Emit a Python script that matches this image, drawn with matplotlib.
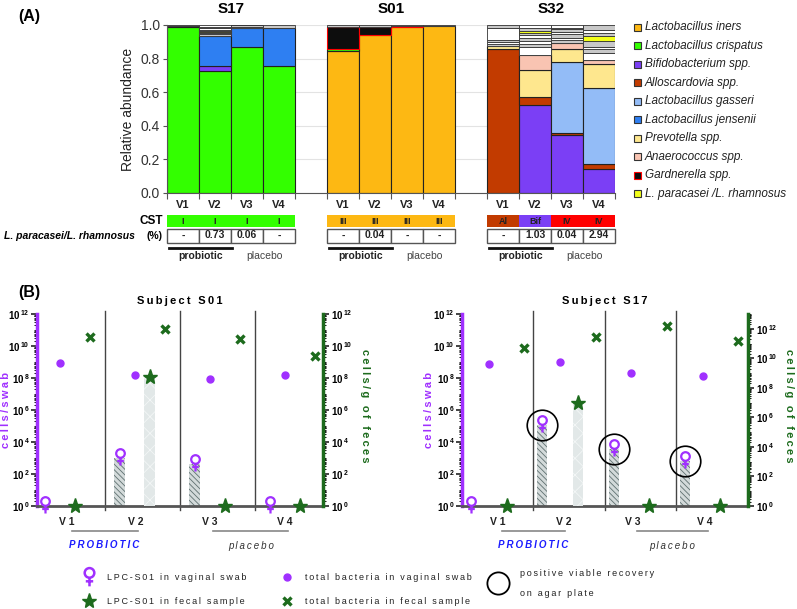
import numpy as np
import matplotlib.pyplot as plt
from matplotlib import ticker, transforms
from matplotlib.path import Path
from matplotlib.patches import Rectangle

plt.rcParams['font.family'] = ['Liberation Sans', 'DejaVu Sans']
plt.rcParams['mathtext.fontset'] = 'custom'
plt.rcParams['mathtext.rm'] = 'Liberation Sans'
plt.rcParams['mathtext.bf'] = 'Liberation Sans:bold'
plt.rcParams['hatch.linewidth'] = 0.6

# ---------------- (A) relative abundance: S17 V1-V4, S01 V1-V4, S32 V1-V4
subjects = ['S17', 'S01', 'S32']
visits = ['V1', 'V2', 'V3', 'V4']
taxa = ['Lactobacillus iners', 'Lactobacillus crispatus', 'Bifidobacterium spp.',
        'Alloscardovia spp.', 'Lactobacillus gasseri', 'Lactobacillus jensenii',
        'Prevotella spp.', 'Anaerococcus spp.', 'Gardnerella spp.',
        'L. paracasei /L. rhamnosus']
iners        = [0, 0, 0, 0,  0.845, 0.94, 0.99, 0.997,  0, 0, 0, 0]
crispatus    = [0.99, 0.728, 0.871, 0.757,  0.01, 0, 0, 0,  0, 0, 0, 0]
bifido       = [0, 0.029, 0, 0,  0, 0, 0, 0,  0, 0.523, 0.344, 0.145]
alloscard    = [0, 0, 0, 0,  0, 0, 0, 0,  0.855, 0.05, 0.014, 0.025]
gasseri      = [0, 0, 0, 0,  0, 0, 0, 0,  0, 0, 0.422, 0.455]
jensenii     = [0.006, 0.179, 0.109, 0.223,  0, 0, 0, 0,  0, 0, 0, 0]
prevotella   = [0, 0, 0, 0,  0, 0, 0, 0,  0.02, 0.159, 0.08, 0.145]
anaerococcus = [0, 0, 0, 0,  0, 0, 0, 0,  0, 0.088, 0.03, 0.02]
gardnerella  = [0, 0, 0, 0,  0.135, 0.05, 0.005, 0,  0, 0, 0, 0]
paracasei    = [0, 0.0073, 0.0006, 0,  0, 0.0004, 0, 0,  0, 0.0103, 0.0004, 0.0294]
# other minor taxa, below and above the L. paracasei segment
other_below = [[], [0.008, 0.006, 0.006], [0.005, 0.004], [],
               [], [], [], [],
               [], [0.002, 0.048, 0.015, 0.02, 0.015, 0.02, 0.015],
               [0.02, 0.015, 0.02, 0.015, 0.015], [0.004, 0.042, 0.02, 0.015, 0.034]]
other_above = [[0.004], [0.006, 0.012, 0.005, 0.0137], [0.008, 0.0024], [0.02],
               [0.01], [0.0096], [0.005], [0.003],
               [0.01, 0.012, 0.012, 0.075, 0.016], [0.015, 0.02], [0.0096, 0.015],
               [0.02, 0.016, 0.03]]
cst = ['I', 'I', 'I', 'I', 'III', 'III', 'III', 'III', 'Al', 'Bif', 'IV', 'IV']
lpr_pct = ['-', '0.73', '0.06', '-', '-', '0.04', '-', '-', '-', '1.03', '0.04', '2.94']

# ---------------- (B) counts per visit
b_visits = ['V 1', 'V 2', 'V 3', 'V 4']
s01_lpc_vag = [1, 1e3, 4.2e2, 1]
s01_tot_vag = [9e8, 1.5e8, 8.7e7, 1.5e8]
s01_lpc_fec = [1, 1.2e8, 1, 1]
s01_tot_fec = [3.8e10, 1.15e11, 2.9e10, 2.5e9]
s01_recovered = [False, False, False, False]
s17_lpc_vag = [1, 1.15e5, 3.6e3, 6.5e2]
s17_tot_vag = [7.5e8, 1.05e9, 2.2e8, 1.4e8]
s17_lpc_fec = [1, 9e6, 1, 1]
s17_tot_fec = [5e10, 2.9e11, 1.6e12, 1.5e11]
s17_recovered = [False, True, True, True]

# colours
taxa_colors = ['#fdb813', '#33ff00', '#7b3ff5', '#c23b00', '#93bcf7', '#2e7ff2',
               '#fee78e', '#f9c4b2', '#0d0d0d', '#f2ff1a']
cst_colors = {'I': '#33ff00', 'III': '#fdb813', 'Al': '#c23b00', 'Bif': '#7b3ff5', 'IV': '#ff0000'}
stripe_colors = ['#c8c8c8', '#ffffff']
purple = '#a030ff'
green = '#1d6b1d'

W, H = 797, 609


def px_rect(l, t, r, b):
    return [l / W, 1 - b / H, (r - l) / W, (b - t) / H]


def spaced(s):
    return '\u2009'.join(s)


# female sign marker
_circ = Path.circle(center=(0, 5), radius=4.3)
female = Path.make_compound_path(_circ, Path([(0, 0.7), (0, -7)]),
                                 Path([(-3.3, -2.5), (3.3, -2.5)]))

fig = plt.figure(figsize=(W / 100, H / 100), dpi=100)

# ======================= panel A
axA = fig.add_axes(px_rect(167, 25, 615, 193))
slots = np.array([0, 1, 2, 3, 5, 6, 7, 8, 10, 11, 12, 13])
xb = slots + 0.5
stack = [iners, crispatus, bifido, alloscard, gasseri, jensenii,
         prevotella, anaerococcus, gardnerella]
bottom = np.zeros(12)
for j, vals in enumerate(stack):
    vals = np.array(vals, float)
    m = vals > 0
    ec = 'red' if taxa[j].startswith('Gardnerella') else '#222222'
    axA.bar(xb[m], vals[m], 1.0, bottom=bottom[m], color=taxa_colors[j],
            edgecolor=ec, linewidth=0.8, zorder=2)
    bottom += vals
for i in range(12):
    b = bottom[i]
    for k, v in enumerate(other_below[i]):
        axA.bar(xb[i], v, 1.0, bottom=b, color=stripe_colors[k % 2],
                edgecolor='#333333', linewidth=0.6, zorder=2)
        b += v
    if paracasei[i] > 0:
        axA.bar(xb[i], paracasei[i], 1.0, bottom=b, color=taxa_colors[9],
                edgecolor='#333333', linewidth=0.6, zorder=2)
        b += paracasei[i]
    for k, v in enumerate(other_above[i]):
        axA.bar(xb[i], v, 1.0, bottom=b, color=stripe_colors[k % 2],
                edgecolor='#333333', linewidth=0.6, zorder=2)
        b += v

axA.set_xlim(0, 14)
axA.set_ylim(0, 1.0)
axA.set_xticks(range(15))
axA.set_xticklabels([])
axA.set_yticks(np.arange(0, 1.01, 0.2))
axA.yaxis.set_major_formatter(ticker.FormatStrFormatter('%.1f'))
axA.tick_params(axis='x', length=4, color='#555555')
axA.tick_params(axis='y', length=3, color='#555555', labelsize=10, labelcolor='#333333', pad=2)
axA.yaxis.grid(True, color='#e3e3e3', lw=0.8)
axA.set_axisbelow(True)
for s in ['top', 'right']:
    axA.spines[s].set_visible(False)
for s in ['left', 'bottom']:
    axA.spines[s].set_color('#555555')
axA.set_ylabel('Relative abundance', fontsize=10, color='#222222', labelpad=4)


# ======================= panel B
def draw_subject(rect, xlim, off, fec_top, lpc_vag, tot_vag, lpc_fec, tot_fec, recovered):
    ax = fig.add_axes(rect)
    ax2 = ax.twinx()
    x = np.arange(4)
    lv = np.array(lpc_vag, float)
    lf = np.array(lpc_fec, float)
    ax.set_xlim(*xlim)
    ax.set_yscale('log')
    ax.set_ylim(1, 1e12)
    ax2.set_yscale('log')
    ax2.set_ylim(1, fec_top)

    m = lv > 1
    ax.bar(x[m] - 3 * off, lv[m] - 1, width=0.14, bottom=1, facecolor='#d3dada',
           edgecolor='#5f7070', hatch='\\\\\\\\\\\\', linewidth=0, zorder=1)
    m2 = lf > 1
    ax2.bar(x[m2] + off, lf[m2] - 1, width=0.14, bottom=1, facecolor='#e2e8e8',
            edgecolor='#f3f6f6', hatch='xx', linewidth=0, zorder=1)

    for sx in [0.5, 1.5, 2.5]:
        ax.plot([sx, sx], [-0.02, 1.015], transform=ax.get_xaxis_transform(),
                color='#444444', lw=1, clip_on=False, zorder=0)

    ax.plot(x - 3 * off, lv, ls='none', marker=female, ms=13.4, mfc='none',
            mec=purple, mew=1.6, clip_on=False, zorder=6)
    ax.plot(x - off, tot_vag, ls='none', marker='o', ms=5, color=purple, zorder=5)
    rec = np.array(recovered)
    ax.plot((x - 3 * off)[rec], lv[rec], ls='none', marker='o', ms=22, mfc='none',
            mec='black', mew=1.2, clip_on=False, zorder=7)
    ax2.plot(x + off, lpc_fec, ls='none', marker='*', ms=11, color=green,
             clip_on=False, zorder=6)
    ax2.plot(x + 3 * off, tot_fec, ls='none', marker='x', ms=6, mew=2.4,
             color=green, zorder=6)

    fmt = ticker.FuncFormatter(
        lambda v, p: r'$\mathbf{10}^{\,\mathbf{%d}}$' % int(round(np.log10(v))))
    for a in [ax, ax2]:
        a.yaxis.set_major_locator(ticker.FixedLocator([10.0 ** k for k in range(0, 13, 2)]))
        a.yaxis.set_minor_locator(ticker.LogLocator(base=10, subs=np.arange(1, 10), numticks=40))
        a.yaxis.set_minor_formatter(ticker.NullFormatter())
        a.yaxis.set_major_formatter(fmt)
        a.tick_params(axis='y', which='major', length=4, width=1.1, labelsize=7,
                      color='#111111', pad=1.5)
        a.tick_params(axis='y', which='minor', length=2.5, width=0.7, color='#111111')
    ax.tick_params(axis='x', bottom=False, labelbottom=False)
    for s in ['top', 'right']:
        ax.spines[s].set_visible(False)
    for s in ['top', 'left', 'bottom']:
        ax2.spines[s].set_visible(False)
    ax.spines['left'].set_color(purple)
    ax.spines['left'].set_linewidth(2.5)
    ax.spines['bottom'].set_color('#555555')
    ax.spines['bottom'].set_linewidth(2)
    ax2.spines['right'].set_color(green)
    ax2.spines['right'].set_linewidth(2.5)
    return ax


axL = draw_subject(px_rect(37, 314, 323, 506), (-0.4, 3.41), 0.1, 1e12,
                   s01_lpc_vag, s01_tot_vag, s01_lpc_fec, s01_tot_fec, s01_recovered)
axR = draw_subject(px_rect(462, 314, 748, 506), (-0.5, 3.51), 0.124, 1e13,
                   s17_lpc_vag, s17_tot_vag, s17_lpc_fec, s17_tot_fec, s17_recovered)

# ======================= overlay in pixel coordinates
ov = fig.add_axes([0, 0, 1, 1])
ov.set_xlim(0, W)
ov.set_ylim(H, 0)
ov.axis('off')

ov.text(18, 16, '(A)', fontsize=11.5, fontweight='bold', va='center')
ov.text(18, 293, '(B)', fontsize=11.5, fontweight='bold', va='center')

tA = transforms.blended_transform_factory(axA.transData, ov.transData)
for k, s in enumerate(subjects):
    ov.text(k * 5 + 2, 9, s, transform=tA, ha='center', va='center',
            fontsize=11, fontweight='bold')
    ov.plot([k * 5 + 0.06, k * 5 + 2.03], [248, 248], transform=tA, color='#111111', lw=2)
    ov.text(k * 5 + 1.05, 256, 'probiotic', transform=tA, ha='center', va='center',
            fontsize=7.5, fontweight='bold', color='#222222')
    ov.text(k * 5 + 3.05, 256, 'placebo', transform=tA, ha='center', va='center',
            fontsize=7.5, color='#444444')
for i, s in enumerate(slots):
    ov.text(s + 0.5, 205, visits[i % 4], transform=tA, ha='center', va='center',
            fontsize=8, fontweight='bold', color='#222222')
    ov.add_patch(Rectangle((s, 215), 1, 11.5, transform=tA, facecolor=cst_colors[cst[i]],
                           edgecolor='none'))
    ov.text(s + 0.5, 221, cst[i], transform=tA, ha='center', va='center',
            fontsize=6.5, fontweight='bold', color='#222222')
    ov.add_patch(Rectangle((s, 228.5), 1, 14, transform=tA, facecolor='white',
                           edgecolor='#555555', lw=1))
    ov.text(s + 0.5, 235.5, lpr_pct[i], transform=tA, ha='center', va='center',
            fontsize=7.5, fontweight='bold', color='#222222')
ov.text(163, 221, 'CST', ha='right', va='center', fontsize=8.5, fontweight='bold')
ov.text(135, 236, 'L. paracasei/L. rhamnosus', ha='right', va='center', fontsize=7.5,
        fontweight='bold', style='italic')
ov.text(163, 236, '(%)', ha='right', va='center', fontsize=7.5, fontweight='bold')

# legend of panel A
for j, (name, col) in enumerate(zip(taxa, taxa_colors)):
    y = 27 + j * 18.55
    ec = 'red' if name.startswith('Gardnerella') else '#333333'
    ov.add_patch(Rectangle((634, y - 3.5), 7, 7, facecolor=col, edgecolor=ec, lw=0.8))
    ov.text(645, y, name, fontsize=8.5, style='italic', va='center', color='#222222')

# panel B texts
for ax, title, cx in [(axL, 'Subject S01', 180), (axR, 'Subject S17', 605)]:
    tB = transforms.blended_transform_factory(ax.transData, ov.transData)
    ov.text(cx, 301, spaced(title), ha='center', va='center', fontsize=8, fontweight='bold')
    for i, lab in enumerate(b_visits):
        ov.text([0, 0.92, 1.9, 2.9][i], 522, lab, transform=tB, ha='center', va='center',
                fontsize=7.5, fontweight='bold', color='#222222')
    ov.plot([0.06, 0.95], [531, 531], transform=tB, color='#888888', lw=1.2)
    ov.plot([1.95, 2.95], [531, 531], transform=tB, color='#888888', lw=1.2)
    ov.text(0.5, 545, spaced('PROBIOTIC'), transform=tB, ha='center', va='center',
            fontsize=7, fontweight='bold', style='italic', color='#1a1aff')
    ov.text(2.45, 546, spaced('placebo'), transform=tB, ha='center', va='center',
            fontsize=7, style='italic', color='#333333')
for xl, xr in [(6, 365), (429, 789)]:
    ov.text(xl, 410, spaced('cells/swab'), rotation=90, ha='center', va='center',
            fontsize=8, fontweight='bold', color=purple)
    ov.text(xr, 406, spaced('cells/g of feces'), rotation=270, ha='center', va='center',
            fontsize=8, fontweight='bold', color=green)

# legend of panel B
ov.plot([89], [578], ls='none', marker=female, ms=15, mfc='none', mec=purple, mew=1.8)
ov.text(107, 578, spaced('LPC-S01 in vaginal swab'), fontsize=6.5, va='center', color='#222222')
ov.plot([89], [601], ls='none', marker='*', ms=11, color=green)
ov.text(107, 601, spaced('LPC-S01 in fecal sample'), fontsize=6.5, va='center', color='#222222')
ov.plot([287], [577], ls='none', marker='o', ms=5, color=purple)
ov.text(305, 577, spaced('total bacteria in vaginal swab'), fontsize=6.5, va='center', color='#222222')
ov.plot([287], [601], ls='none', marker='x', ms=6, mew=2.4, color=green)
ov.text(305, 601, spaced('total bacteria in fecal sample'), fontsize=6.5, va='center', color='#222222')
ov.plot([498], [583], ls='none', marker='o', ms=16, mfc='none', mec='black', mew=1.3)
ov.text(520, 574, spaced('positive viable recovery'), fontsize=6.5, va='center', color='#222222')
ov.text(520, 593, spaced('on agar plate'), fontsize=6.5, va='center', color='#222222')

fig.savefig('out.png', dpi=100)
